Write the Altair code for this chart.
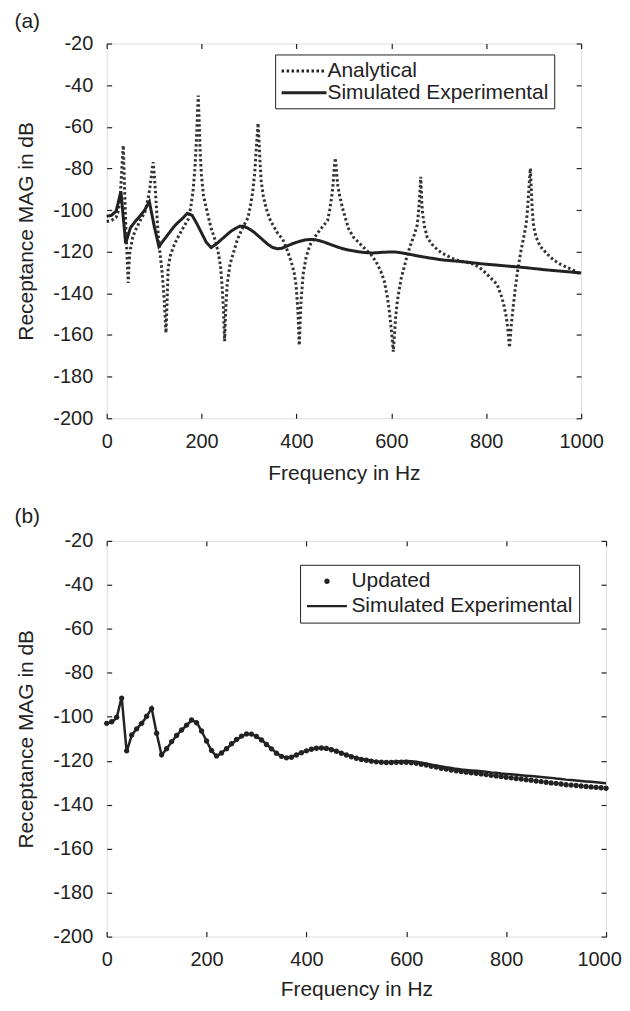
import altair as alt
import pandas as pd

# ---------------- data ----------------
analytical_freq = [0, 10, 20, 25, 29, 32, 34, 35, 36, 38, 41, 43.5, 45.5, 47, 49, 55, 60, 66.5, 73, 80.5,
                   87, 91, 94, 96, 98, 100, 103, 106, 108.6, 112, 116, 119, 122, 125, 127, 129.6, 134, 140,
                   148, 157.6, 165, 171.6, 177, 182, 186, 189, 191, 193, 195, 197, 199.6, 204, 210, 215,
                   220.6, 228, 234.6, 240, 243, 246, 248.6, 251, 254, 260, 266, 275, 283.6, 290, 297.6,
                   303, 308, 312, 315, 317, 319, 321, 323, 325.6, 330, 336, 343, 350, 360, 371, 380, 388.6,
                   395, 399, 403, 406, 408, 409.7, 414, 420, 428, 437.6, 448, 458.6, 465.7, 470, 474, 477,
                   479.5, 482, 484.5, 487, 490, 497, 504, 510, 520, 535.7, 546, 556.7, 567, 577.7, 585,
                   591.8, 595.5, 598.7, 601.5, 604, 606.5, 609, 612, 616, 621, 626.7, 633, 640.8, 648,
                   654.8, 658, 660, 662, 664, 666, 670, 675.8, 686, 696.8, 707, 718, 732, 745.8, 760, 774,
                   785, 794.8, 809, 823, 833, 838, 842.4, 846, 849, 852, 857, 861, 865, 872, 879, 884, 887,
                   889, 891, 893, 895, 897, 900, 905, 914, 928, 942, 956, 970, 984, 1000]
analytical_db = [-105.5, -105, -103.5, -100, -92, -80, -72, -69, -76, -92, -112, -125, -135, -126, -120,
                 -113, -110, -107, -104, -101, -95, -89.4, -84, -80, -77, -82, -92, -103, -111.8, -120,
                 -128, -135.7, -146, -159, -146, -127.7, -122, -118, -114, -110, -107, -104.6, -99, -91,
                 -80, -67, -56, -45, -58, -72, -83, -93, -99, -104, -109, -114, -119.7, -127, -135.7,
                 -147, -163, -147, -135.7, -126, -121.3, -114.5, -110, -107, -103.8, -98, -91, -82,
                 -71.8, -65, -58.3, -66, -76, -86, -93, -99, -104, -107, -111, -114, -119, -124.5, -130,
                 -135.7, -148, -165, -152, -143.6, -131, -123, -117, -113.3, -110, -107, -105, -100, -94,
                 -88, -80, -75, -82, -88, -92, -99, -104.5, -109, -113, -116.6, -119, -121.3, -124.5,
                 -129.3, -134, -142, -148, -154.8, -161, -168, -160, -151.6, -145, -138.9, -132.5,
                 -127.7, -122, -116.6, -112, -107, -99, -92, -84, -96, -102, -108, -113.3, -116.5, -119,
                 -120.7, -122, -123.5, -124.5, -125.2, -126, -127.5, -129.3, -132.5, -135.7, -142,
                 -146.5, -151.6, -158, -166, -157, -146, -138, -131, -121, -113, -107, -100, -93, -86,
                 -80, -90, -100, -108, -113, -117.5, -121, -124, -126, -127.5, -129, -131]

exp_freq = [0, 10, 20, 30, 40, 50, 60, 70, 80, 90, 100, 110, 120, 130, 140, 150, 160, 170, 180, 190,
            200, 210, 220, 230, 240, 250, 260, 270, 280, 290, 300, 310, 320, 330, 340, 350, 360, 370,
            380, 390, 400, 410, 420, 430, 440, 450, 460, 470, 480, 490, 500, 510, 520, 530, 540, 550,
            560, 570, 580, 590, 600, 610, 620, 630, 640, 650, 660, 670, 680, 690, 700, 710, 720, 730,
            740, 750, 760, 770, 780, 790, 800, 810, 820, 830, 840, 850, 860, 870, 880, 890, 900, 910,
            920, 930, 940, 950, 960, 970, 980, 990, 1000]
sim_exp_db = [-103, -102.5, -100.5, -91, -116, -108.5, -105.5, -103, -100, -96, -107.5, -117.5, -114.5,
              -111.5, -108.5, -106, -104, -101.5, -102.5, -106.5, -111, -115.5, -118, -116.5, -114.5,
              -112.5, -110.5, -109, -107.8, -107.8, -109, -110.5, -112.5, -114.5, -116.5, -118, -118.6,
              -118.3, -117.3, -116.3, -115.5, -114.8, -114.3, -114.1, -114.3, -114.8, -115.5, -116.4,
              -117.2, -118, -118.7, -119.2, -119.6, -120, -120.3, -120.5, -120.6, -120.5, -120.3,
              -120.2, -120.1, -120.2, -120.5, -120.9, -121.3, -121.8, -122.2, -122.6, -123, -123.3,
              -123.7, -124, -124.2, -124.4, -124.6, -124.8, -125, -125.3, -125.5, -125.8, -126, -126.2,
              -126.4, -126.6, -126.8, -127, -127.2, -127.4, -127.6, -127.8, -128.1, -128.3, -128.6,
              -128.8, -129, -129.2, -129.4, -129.6, -129.8, -130, -130.2]
updated_db = [-103, -102.3, -100.2, -91.5, -115.5, -108.3, -105.5, -103, -99.8, -96.3, -107.5, -117.3,
              -114.5, -111.3, -108.5, -106, -103.8, -101.5, -102.7, -106.5, -111, -115.3, -117.8, -116.5,
              -114.5, -112.3, -110.3, -108.8, -107.8, -107.9, -109, -110.6, -112.6, -114.6, -116.6, -118,
              -118.7, -118.4, -117.4, -116.4, -115.5, -114.8, -114.3, -114.2, -114.4, -115, -115.7,
              -116.6, -117.4, -118.2, -118.9, -119.4, -119.8, -120.2, -120.5, -120.7, -120.8, -120.8,
              -120.7, -120.7, -120.7, -120.9, -121.2, -121.6, -122, -122.5, -122.9, -123.4, -123.8,
              -124.2, -124.6, -124.9, -125.2, -125.5, -125.7, -126, -126.3, -126.6, -126.9, -127.2,
              -127.5, -127.8, -128.1, -128.3, -128.6, -128.9, -129.2, -129.5, -129.8, -130.1, -130.3,
              -130.6, -130.9, -131.1, -131.3, -131.5, -131.7, -131.9, -132.1, -132.3, -132.5]

x_ticks = [0, 200, 400, 600, 800, 1000]
y_ticks = [-20, -40, -60, -80, -100, -120, -140, -160, -180, -200]

# ---------------- styling ----------------
FONT = "Liberation Sans"
INK = "#222222"
FS = 21
TOP_H = 376
GAP = 123


def ax(orient, title=None, labels=False, title_pad=8):
    kw = dict(orient=orient, values=x_ticks if orient in ("top", "bottom") else y_ticks,
              domain=False, grid=False, offset=-5, tickSize=5, tickWidth=1.2, tickColor=INK,
              labels=labels, labelFlush=False, labelOverlap=False)
    if labels:
        kw.update(labelExpr="datum.value + ''", labelFont=FONT, labelFontSize=20, labelColor=INK,
                  labelPadding=13 if orient == "bottom" else 14)
    if title:
        kw.update(title=title, titleFont=FONT, titleFontSize=FS, titleFontWeight="normal",
                  titleColor=INK, titlePadding=title_pad)
    else:
        kw.update(title=None)
    return alt.Axis(**kw)


x_scale = alt.Scale(domain=[0, 1000], nice=False, zero=False)
y_scale = alt.Scale(domain=[-200, -20], nice=False, zero=False)

# ---------------- panel (a) ----------------
df_an = pd.DataFrame({"f": analytical_freq, "db": analytical_db, "series": "Analytical"})
df_ex = pd.DataFrame({"f": exp_freq, "db": sim_exp_db, "series": "Simulated Experimental"})

dash_scale = alt.Scale(domain=["Analytical", "Simulated Experimental"], range=[[2.5, 2.5], [1, 0]])
legend_a = alt.Legend(orient="none", legendX=169, legendY=11, title=None,
                      symbolType="M -2.25 0 L 2.25 0", symbolSize=400, symbolOffset=12.5,
                      symbolStrokeWidth=3, symbolStrokeColor=INK, labelFont=FONT, labelFontSize=FS,
                      labelColor=INK, labelOffset=12, labelLimit=0, strokeColor=INK,
                      fillColor="white", padding=5, rowPadding=0)

an_line = alt.Chart(df_an).mark_line(color="#333333", strokeWidth=3).encode(
    x=alt.X("f:Q", scale=x_scale, axis=ax("bottom", "Frequency in Hz", True, 11)),
    y=alt.Y("db:Q", scale=y_scale, axis=ax("left", "Receptance MAG in dB", True, 16)),
    strokeDash=alt.StrokeDash("series:N", scale=dash_scale, legend=legend_a),
)
ex_line = alt.Chart(df_ex).mark_line(color=INK, strokeWidth=3).encode(
    x=alt.X("f:Q", scale=x_scale, axis=ax("top")),
    y=alt.Y("db:Q", scale=y_scale, axis=ax("right")),
    strokeDash=alt.StrokeDash("series:N", scale=dash_scale, legend=legend_a),
)
panel_a = alt.layer(an_line, ex_line).resolve_axis(x="independent", y="independent").properties(
    width=476, height=TOP_H,
    title=alt.TitleParams("(a)", anchor="start", frame="bounds", font=FONT, fontSize=FS,
                          fontWeight="normal", color=INK, offset=2, dx=-1.5),
)

# ---------------- panel (b) ----------------
df_up = pd.DataFrame({"f": exp_freq, "db": updated_db, "series": "Updated"})
df_ex2 = pd.DataFrame({"f": exp_freq, "db": sim_exp_db, "series": "Simulated Experimental"})

circle_path = "M -0.27 0 A 0.27 0.27 0 1 0 0.27 0 A 0.27 0.27 0 1 0 -0.27 0 Z"
line_path = "M -2 -0.12 L 2 -0.12 L 2 0.12 L -2 0.12 Z"
shape_scale = alt.Scale(domain=["Updated", "Simulated Experimental"], range=[circle_path, line_path])
legend_b = alt.Legend(orient="none", legendX=194, legendY=TOP_H + GAP + 24, title=None,
                      symbolSize=400, symbolOffset=10.5, symbolStrokeWidth=0, symbolFillColor=INK,
                      labelFont=FONT, labelFontSize=FS, labelColor=INK, labelOffset=14,
                      labelLimit=0, strokeColor=INK, fillColor="white", padding=6, rowPadding=3)

up_pts = alt.Chart(df_up).mark_point(filled=True, size=400, color=INK, opacity=1).encode(
    x=alt.X("f:Q", scale=x_scale, axis=ax("bottom", "Frequency in Hz", True, 9)),
    y=alt.Y("db:Q", scale=y_scale, axis=ax("left", "Receptance MAG in dB", True, 16)),
    shape=alt.Shape("series:N", scale=shape_scale, legend=legend_b),
)
ex_line2 = alt.Chart(df_ex2).mark_line(color=INK, strokeWidth=2.5).encode(
    x=alt.X("f:Q", scale=x_scale, axis=ax("top")),
    y=alt.Y("db:Q", scale=y_scale, axis=ax("right")),
)
panel_b = alt.layer(up_pts, ex_line2).resolve_axis(x="independent", y="independent").properties(
    width=501, height=397,
    title=alt.TitleParams("(b)", anchor="start", frame="bounds", font=FONT, fontSize=FS,
                          fontWeight="normal", color=INK, offset=3.5, dx=-1.5),
)

chart = alt.vconcat(panel_a, panel_b, spacing=GAP, bounds="flush").properties(
    padding={"left": 5, "top": 0, "right": 0, "bottom": 0}
).configure_view(stroke=INK, strokeWidth=1.5).configure(background="white")

# keep the last bottom tick label inside the page, as in the reference
chart = chart.to_dict()
for layer in chart["vconcat"][1]["layer"][:1]:
    layer["encoding"]["x"]["axis"]["labelOffset"] = {"expr": "datum.value == 1000 ? -7 : 0"}
chart = alt.VConcatChart.from_dict(chart)

chart.save("out.html", embed_options={"renderer": "svg", "actions": False})
